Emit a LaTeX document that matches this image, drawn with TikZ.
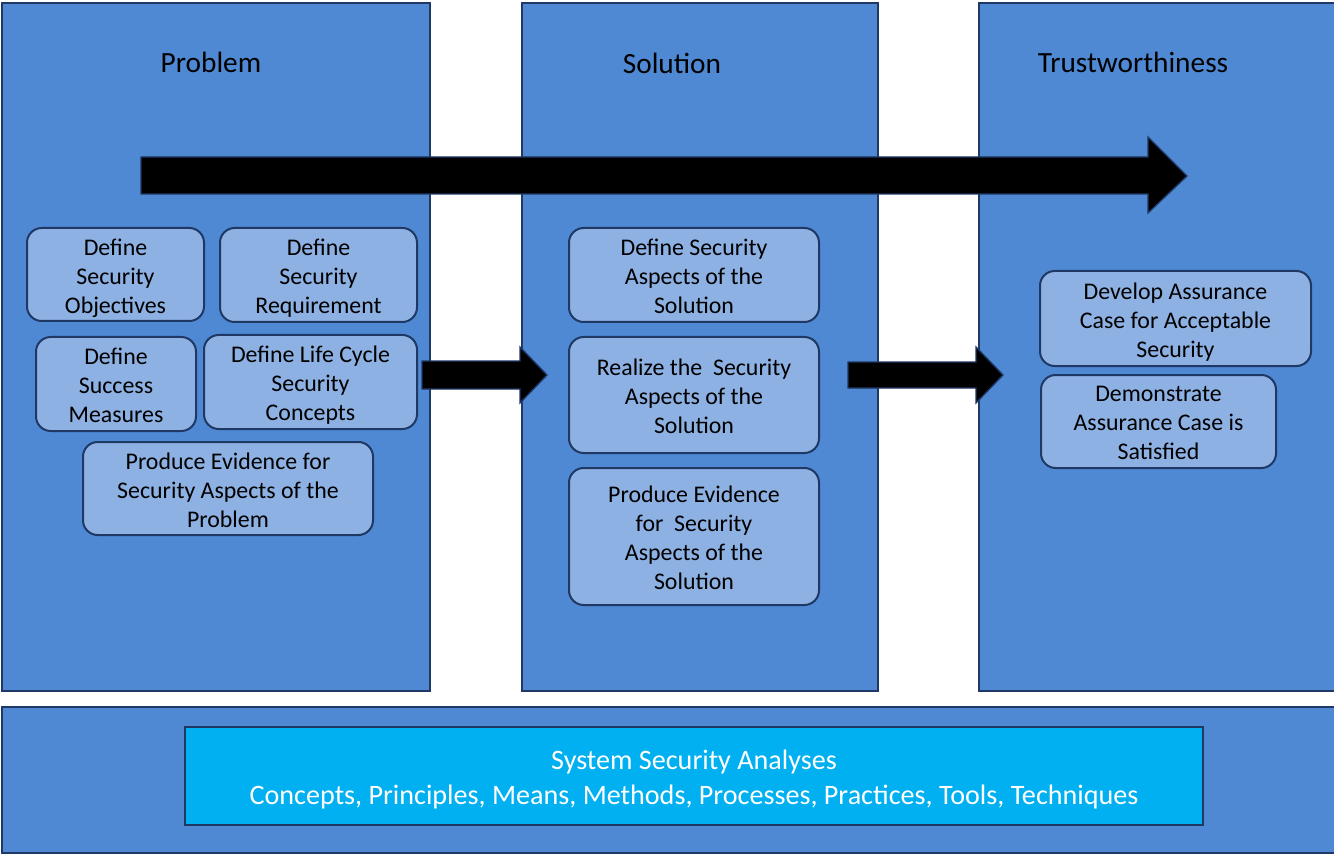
\documentclass[tikz,border=0pt]{standalone}
\usepackage{fontspec}
\setmainfont{Carlito}
\definecolor{panelfill}{HTML}{4F89D4}
\definecolor{boxfill}{HTML}{8DB1E3}
\definecolor{edge}{HTML}{1F3864}
\definecolor{cyanbox}{HTML}{00B0F0}
\newcommand\mystrut{\rule[-0.2em]{0pt}{1.12em}}
\tikzset{
  panel/.style={draw=edge, fill=panelfill, line width=1.5pt},
  stepbox/.style={draw=edge, fill=boxfill, line width=1.5pt, rounded corners=11pt, inner sep=0pt},
  steptext/.style={align=center, inner sep=0pt, font=\fontsize{17.9}{21.75}\selectfont,
    execute at end node=\mystrut, yshift=-3pt},
  analysistext/.style={align=center, inner sep=0pt, text=white, font=\fontsize{21.1}{26.25}\selectfont,
    execute at end node=\mystrut, yshift=-3pt},
  title/.style={font=\fontsize{22}{26}\selectfont, inner sep=0pt},
  blockarrow/.style={fill=black, draw=edge, line width=1pt, line join=miter},
}
\begin{document}
\begin{tikzpicture}[x=0.75pt, y=-0.75pt]
\useasboundingbox (0,0) rectangle (1334,855);
\clip (0,0) rectangle (1334,855);
\fill[white] (0,0) rectangle (1334,855);
% panels
\draw[panel] (2,3) rectangle (430,691);
\draw[panel] (522,3) rectangle (878,691);
\draw[panel] (979,3) rectangle (1345,691);
\draw[panel] (2,707) rectangle (1345,853);
% titles
\node[title] (tprob) at (211,62) {Problem};
\node[title] (tsol) at (672,63) {Solution};
\node[title] (ttrust) at (1133,62) {Trustworthiness};
% big arrow
\draw[blockarrow] (141,157) -- (1148,157) -- (1148,137) -- (1187,176) -- (1148,213) -- (1148,194) -- (141,194) -- cycle;
% problem boxes
\node[stepbox, minimum width=132.75pt, minimum height=69.75pt,
  label={[steptext]center:{Define\\Security\\Objectives}}] (obj) at (115.5,274.5) {};
\node[stepbox, minimum width=147.75pt, minimum height=70.5pt,
  label={[steptext]center:{Define\\Security\\Requirement}}] (req) at (318.5,275) {};
\node[stepbox, minimum width=120pt, minimum height=70.5pt,
  label={[steptext]center:{Define\\Success\\Measures}}] (succ) at (116,384) {};
\node[stepbox, minimum width=159.75pt, minimum height=70.5pt,
  label={[steptext]center:{Define Life Cycle\\Security\\Concepts}}] (life) at (310.5,382) {};
\node[stepbox, minimum width=217.5pt, minimum height=69.75pt,
  label={[steptext]center:{Produce Evidence for\\Security Aspects of the\\Problem}}] (evp) at (228,488.5) {};
% solution boxes
\node[stepbox, minimum width=187.5pt, minimum height=70.5pt,
  label={[steptext]center:{Define Security\\Aspects of the\\Solution}}] (defs) at (694,275) {};
\node[stepbox, minimum width=187.5pt, minimum height=87pt,
  label={[steptext]center:{Realize the\ \ Security\\Aspects of the\\Solution}}] (real) at (694,395) {};
\node[stepbox, minimum width=187.5pt, minimum height=102.75pt,
  label={[steptext]center:{Produce Evidence\\for\ \ Security\\Aspects of the\\Solution}}] (evs) at (694,536.5) {};
% trust boxes
\node[stepbox, minimum width=203.25pt, minimum height=71.25pt,
  label={[steptext]center:{Develop Assurance\\Case for Acceptable\\Security}}] (dev) at (1175.5,318.5) {};
\node[stepbox, minimum width=176.25pt, minimum height=69.75pt,
  label={[steptext]center:{Demonstrate\\Assurance Case is\\Satisfied}}] (dem) at (1158.5,421.5) {};
% small arrows
\draw[blockarrow] (422,361) -- (520,361) -- (520,347) -- (547,375) -- (520,403) -- (520,389) -- (422,389) -- cycle;
\draw[blockarrow] (848,362) -- (976,362) -- (976,347) -- (1003,375) -- (976,403) -- (976,388) -- (848,388) -- cycle;
% bottom box
\node[draw=edge, fill=cyanbox, line width=1.5pt, minimum width=763.5pt, minimum height=73.5pt, inner sep=0pt,
  label={[analysistext]center:{System Security Analyses\\Concepts, Principles, Means, Methods, Processes, Practices, Tools, Techniques}}]
  (ssa) at (694,776) {};
\end{tikzpicture}
\end{document}
